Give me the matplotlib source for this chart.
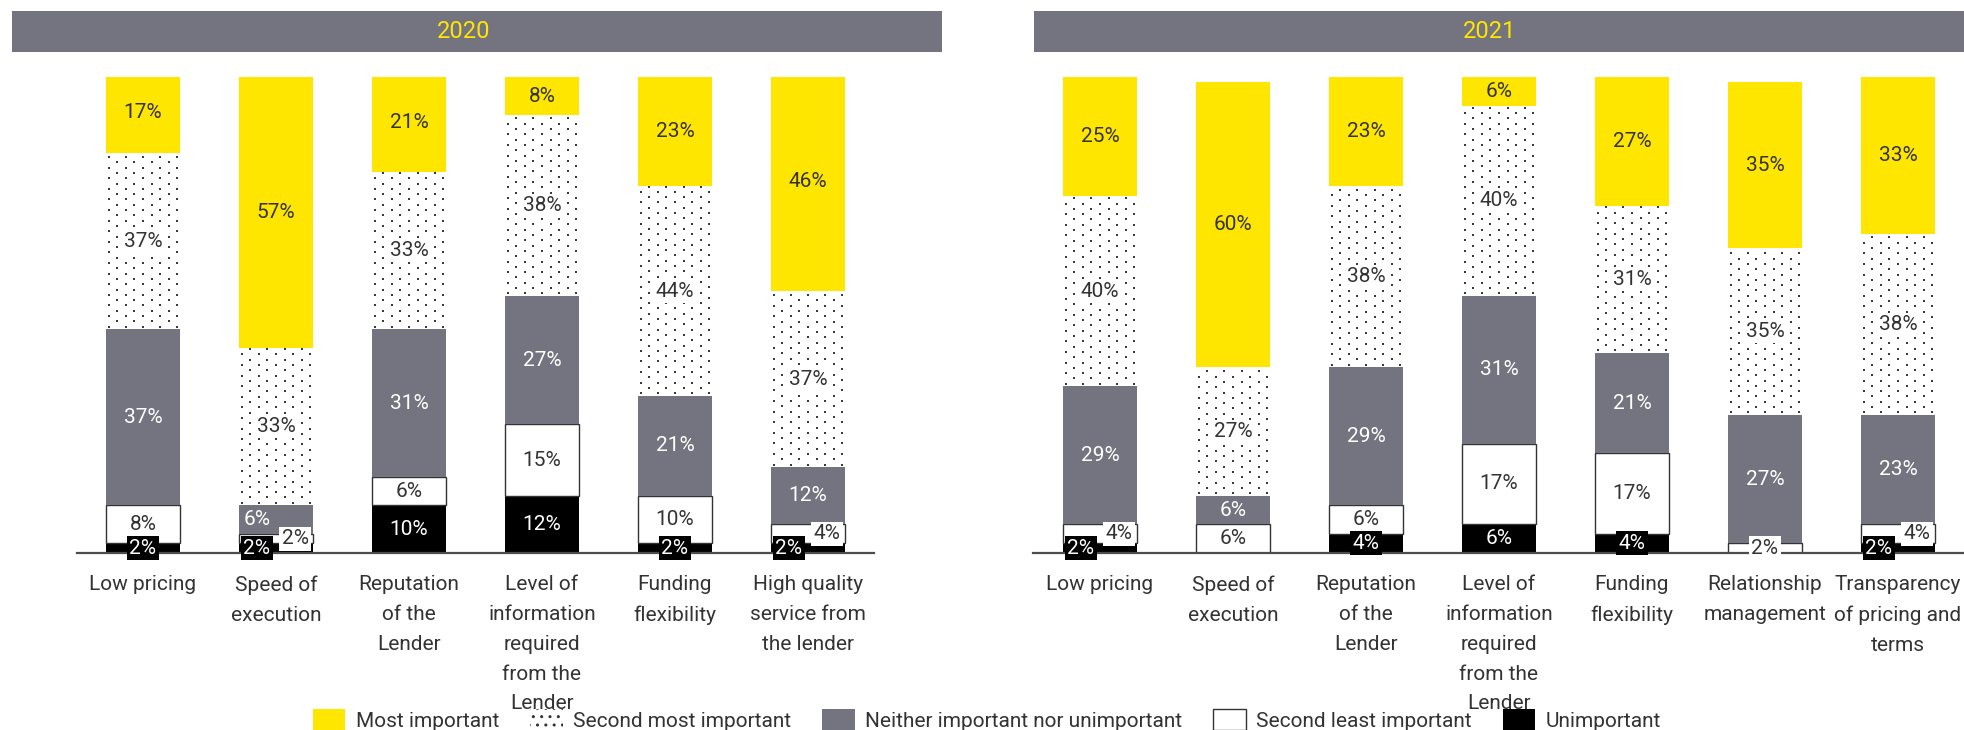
import numpy as np
import matplotlib
matplotlib.use('Agg')
import matplotlib.pyplot as plt
from matplotlib.patches import Rectangle, Patch

plt.rcParams['font.family'] = ['Roboto', 'DejaVu Sans']
plt.rcParams['hatch.color'] = '#333333'

YELLOW = '#FFE600'
GREY = '#747480'
TEXT = '#333333'
DOT = '#3a3a3a'

# 2020 survey
cats_2020 = ['Low pricing', 'Speed of\nexecution', 'Reputation\nof the\nLender',
             'Level of\ninformation\nrequired\nfrom the\nLender',
             'Funding\nflexibility', 'High quality\nservice from\nthe lender']
unimp_2020 = [2, 2, 10, 12, 2, 2]
least_2020 = [8, 2, 6, 15, 10, 4]
neither_2020 = [37, 6, 31, 27, 21, 12]
second_2020 = [37, 33, 33, 38, 44, 37]
most_2020 = [17, 57, 21, 8, 23, 46]

# 2021 survey
cats_2021 = ['Low pricing', 'Speed of\nexecution', 'Reputation\nof the\nLender',
             'Level of\ninformation\nrequired\nfrom the\nLender',
             'Funding\nflexibility', 'Relationship\nmanagement',
             'Transparency\nof pricing and\nterms']
unimp_2021 = [2, 0, 4, 6, 4, 0, 2]
least_2021 = [4, 6, 6, 17, 17, 2, 4]
neither_2021 = [29, 6, 29, 31, 21, 27, 23]
second_2021 = [40, 27, 38, 40, 31, 35, 38]
most_2021 = [25, 60, 23, 6, 27, 35, 33]

legend_labels = ['Most important', 'Second most important',
                 'Neither important nor unimportant', 'Second least important',
                 'Unimportant']

BAR_W = 0.556
W, H = 1965, 730


def add_dots(ax, rect):
    # staggered dot texture, clipped to the bar segment
    p0 = ax.transData.transform((0, 0))
    px_x = ax.transData.transform((1, 0))[0] - p0[0]
    px_y = ax.transData.transform((0, 1))[1] - p0[1]
    dx = 17.2 / px_x
    dy = 5.3 / px_y
    x0, y0 = rect.get_x(), rect.get_y()
    w, h = rect.get_width(), rect.get_height()
    xs, ys = [], []
    for i, yy in enumerate(np.arange(y0 + dy / 2, y0 + h, dy)):
        start = x0 + 2.5 / px_x + (i % 2) * dx / 2
        for xx in np.arange(start, x0 + w, dx):
            xs.append(xx)
            ys.append(yy)
    sc = ax.scatter(xs, ys, s=2.2, marker='s', color=DOT, linewidths=0, zorder=2.2)
    sc.set_clip_path(rect)


def draw_panel(ax, cats, unimp, least, neither, second, most):
    n = len(cats)
    x = np.arange(n)
    layers = [unimp, least, neither, second, most]
    styles = [
        dict(facecolor='black', edgecolor='none'),
        dict(facecolor='white', edgecolor='#333333', linewidth=1),
        dict(facecolor=GREY, edgecolor='none'),
        dict(facecolor='white', edgecolor='none'),
        dict(facecolor=YELLOW, edgecolor='none'),
    ]
    ax.set_xlim(-0.5, n - 0.5)
    ax.set_ylim(0, 100)

    bottom = np.zeros(n)
    for k, (vals, st) in enumerate(zip(layers, styles)):
        vals = np.array(vals, dtype=float)
        bars = ax.bar(x, vals, BAR_W, bottom=bottom, zorder=2, **st)
        for j, rect in enumerate(bars):
            v = vals[j]
            if v <= 0:
                continue
            if k == 3:
                add_dots(ax, rect)
            # two tiny bottom segments get split left / right
            pair = 0 < unimp[j] < 5 and 0 < least[j] < 5
            dx = 0.0
            if pair and k == 0:
                dx = -0.143
            elif pair and k == 1:
                dx = 0.143
            elif pair and k == 2 and v < 8:
                dx = -0.143
            color = 'white' if k in (0, 2) else TEXT
            bbox = None
            if k == 0 and v < 5:
                bbox = dict(boxstyle='square,pad=0.12', fc='black', ec='none')
            elif k == 1 and v < 5:
                bbox = dict(boxstyle='square,pad=0.12', fc='white', ec='none')
            elif k == 3:
                bbox = dict(boxstyle='square,pad=0.1', fc='white', ec='none')
            ax.text(x[j] + dx, bottom[j] + v / 2, f'{int(v)}%', ha='center',
                    va='center', fontsize=15, color=color, bbox=bbox, zorder=4)
        bottom += vals

    for side in ['top', 'right', 'left']:
        ax.spines[side].set_visible(False)
    ax.spines['bottom'].set_color('#4d4d4d')
    ax.spines['bottom'].set_linewidth(1.6)
    ax.spines['bottom'].set_zorder(2.5)
    ax.set_yticks([])
    ax.set_xticks(x)
    ax.set_xticklabels(cats, fontsize=15, color=TEXT, linespacing=1.72)
    ax.tick_params(axis='x', length=0, pad=16)


def title_bar(fig, x0, x1, text, tx):
    y0, y1 = 11, 52
    fig.add_artist(Rectangle((x0 / W, 1 - y1 / H), (x1 - x0) / W, (y1 - y0) / H,
                             transform=fig.transFigure, facecolor=GREY,
                             edgecolor='none'))
    fig.text(tx / W, 1 - (y0 + y1) / 2 / H, text, ha='center', va='center',
             fontsize=17, color=YELLOW)


def main():
    fig = plt.figure(figsize=(W / 100, H / 100), dpi=100)

    ax1 = fig.add_axes([76.5 / W, 177 / H, 798 / W, 476 / H])
    ax2 = fig.add_axes([1033.5 / W, 177 / H, 931 / W, 476 / H])

    draw_panel(ax1, cats_2020, unimp_2020, least_2020, neither_2020, second_2020, most_2020)
    draw_panel(ax2, cats_2021, unimp_2021, least_2021, neither_2021, second_2021, most_2021)

    title_bar(fig, 12, 942, '2020', 464)
    title_bar(fig, 1034, 1965, '2021', 1490)

    handles = [
        Patch(facecolor=YELLOW, edgecolor='none'),
        Patch(facecolor='white', hatch='..'),
        Patch(facecolor=GREY, edgecolor='none'),
        Patch(facecolor='white', edgecolor='#333333', linewidth=1),
        Patch(facecolor='black', edgecolor='none'),
    ]
    fig.legend(handles, legend_labels, loc='center', bbox_to_anchor=(987 / W, 1 - 720 / H),
               ncol=5, frameon=False, fontsize=15, labelcolor=TEXT,
               handlelength=1.55, handleheight=1.15, handletextpad=0.5,
               columnspacing=1.5, borderpad=0)

    fig.savefig('out.png', dpi=100)


if __name__ == '__main__':
    main()
